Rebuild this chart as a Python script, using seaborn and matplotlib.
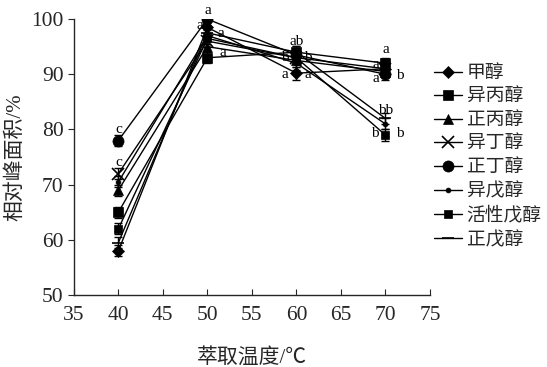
import pandas as pd
import matplotlib
matplotlib.use("Agg")
import matplotlib.pyplot as plt
import seaborn as sns

# data
temps = [40, 50, 60, 70]
names = ["甲醇", "异丙醇", "正丙醇", "异丁醇", "正丁醇", "异戊醇", "活性戊醇", "正戊醇"]
methanol = [58.0, 98.5, 90.2, 91.0]
isopropanol = [65.0, 93.0, 94.0, 92.0]
propanol = [69.0, 95.0, 92.5, 90.5]
isobutanol = [72.0, 96.0, 93.0, 91.0]
butanol = [78.0, 100.0, 93.5, 90.0]
isopentanol = [70.5, 97.0, 92.0, 81.0]
active_pentanol = [62.0, 96.5, 93.0, 79.0]
pentanol = [59.5, 97.5, 94.0, 82.0]
errors = [1.0, 1.0, 1.2, 1.0]
letters = [(40, 80.0, "c"), (40, 74.0, "c"), (50, 101.6, "a"), (49.2, 98.8, "a"),
           (51.5, 97.4, "a"), (51.7, 94.0, "a"), (60, 96.0, "ab"), (58.7, 93.0, "b"),
           (61.3, 93.0, "b"), (58.7, 90.0, "a"), (61.3, 90.0, "a"), (70, 94.4, "a"),
           (68.9, 91.8, "a"), (68.9, 89.2, "a"), (71.6, 89.8, "b"), (70, 83.4, "bb"),
           (68.8, 79.2, "b"), (71.6, 79.2, "b")]

series = [methanol, isopropanol, propanol, isobutanol, butanol, isopentanol, active_pentanol, pentanol]
markers = ["D", "s", "^", "x", "o", ".", "s", "_"]
sizes = [6, 7, 7, 8, 8, 7, 6, 9]

rows = []
for n, vals in zip(names, series):
    for t, v in zip(temps, vals):
        rows.append({"temp": t, "area": v, "alcohol": n})
df = pd.DataFrame(rows)

sns.set_style("ticks")
plt.rcParams["font.family"] = ["Liberation Serif", "Noto Sans CJK SC"]

fig = plt.figure(figsize=(5.47, 3.67), dpi=100)
ax = fig.add_axes([0.135, 0.196, 0.651, 0.752])

for n, vals, m, s in zip(names, series, markers, sizes):
    sns.lineplot(data=df[df["alcohol"] == n], x="temp", y="area", ax=ax, color="black",
                 marker=m, markersize=s, linewidth=1, label=n, markeredgecolor="black",
                 markeredgewidth=1.2 if m in ("x", "_") else 0.5)
    ax.errorbar(temps, vals, yerr=errors, fmt="none", ecolor="black", elinewidth=1, capsize=3)

for x, y, t in letters:
    ax.text(x, y, t, ha="center", va="center", fontsize=11, color="black")

ax.set_xlim(35, 75)
ax.set_ylim(50, 100)
ax.set_xticks(range(35, 80, 5))
ax.set_yticks(range(50, 110, 10))
ax.tick_params(axis="x", direction="in", labelsize=15.5, length=4, pad=8)
ax.tick_params(axis="y", direction="out", labelsize=15.5, length=4)
for side in ("top", "right"):
    ax.spines[side].set_visible(False)
for side in ("left", "bottom"):
    ax.spines[side].set_linewidth(1)
ax.set_xlabel("萃取温度/℃", fontsize=15, labelpad=16)
ax.set_ylabel("相对峰面积/%", fontsize=15, labelpad=4)

ax.legend(loc="center left", bbox_to_anchor=(0.99, 0.5), frameon=False, fontsize=13.5,
          handlelength=1.5, labelspacing=0.34, handletextpad=0.25, borderaxespad=0)

fig.savefig("out.png", dpi=100)
